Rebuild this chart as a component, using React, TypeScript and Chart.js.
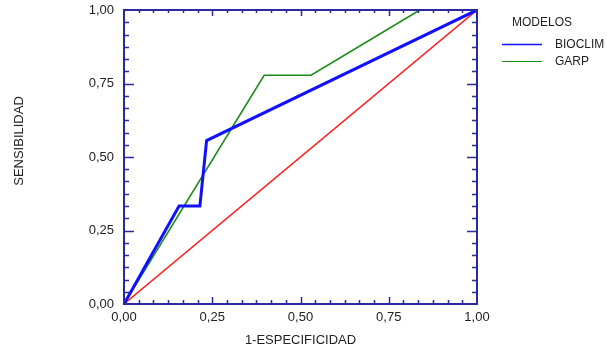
import React, { useEffect, useRef } from "react";
import { Chart, registerables } from "chart.js";

Chart.register(...registerables);

// ---- data ----
const bioclimX = [0, 0.156, 0.215, 0.234, 1];
const bioclimY = [0, 0.333, 0.333, 0.556, 1];
const garpX = [0, 0.397, 0.53, 0.838, 1];
const garpY = [0, 0.778, 0.778, 1, 1];
const refX = [0, 1];
const refY = [0, 1];
const majorTicks = [0, 0.25, 0.5, 0.75, 1];
const minorPerMajor = 6;
const seriesNames = ["BIOCLIM", "GARP"];
const legendTitle = "MODELOS";
const xTitle = "1-ESPECIFICIDAD";
const yTitle = "SENSIBILIDAD";

const AXIS = "#2a2a9c";
const TEXT = "#222222";
const FONT_FAMILY = "'Liberation Sans', Arial, sans-serif";

const fmt = (v: number) => v.toFixed(2).replace(".", ",");
const zip = (xs: number[], ys: number[]) => xs.map((x, i) => ({ x, y: ys[i] }));

const framePlugin = {
  id: "frame",
  afterDatasetsDraw(chart: any) {
    const { ctx, chartArea: a, scales } = chart;
    const xs = scales.x;
    const ys = scales.y;
    ctx.save();
    ctx.strokeStyle = AXIS;
    ctx.lineWidth = 2;
    ctx.strokeRect(Math.round(a.left), Math.round(a.top), Math.round(a.right) - Math.round(a.left), Math.round(a.bottom) - Math.round(a.top));
    ctx.lineWidth = 1.5;
    const n = (majorTicks.length - 1) * minorPerMajor;
    const lo = majorTicks[0];
    const hi = majorTicks[majorTicks.length - 1];
    ctx.beginPath();
    for (let i = 1; i < n; i++) {
      const v = lo + ((hi - lo) * i) / n;
      const major = i % minorPerMajor === 0;
      const px = Math.round(xs.getPixelForValue(v)) + 0.5;
      const py = Math.round(ys.getPixelForValue(v)) + 0.5;
      const lv = major ? 7 : 4;
      const lh = major ? 10 : 5;
      ctx.moveTo(px, a.bottom);
      ctx.lineTo(px, a.bottom - lv);
      ctx.moveTo(px, a.top);
      ctx.lineTo(px, a.top + (major ? 6 : 3));
      ctx.moveTo(a.left, py);
      ctx.lineTo(a.left + lh, py);
      ctx.moveTo(a.right, py);
      ctx.lineTo(a.right - lh, py);
    }
    ctx.stroke();

    // axis titles
    ctx.fillStyle = TEXT;
    ctx.font = `13px ${FONT_FAMILY}`;
    ctx.textAlign = "center";
    ctx.textBaseline = "middle";
    ctx.fillText(xTitle, (a.left + a.right) / 2, 340);
    ctx.save();
    ctx.translate(19, 141);
    ctx.rotate(-Math.PI / 2);
    ctx.fillText(yTitle, 0, 0);
    ctx.restore();

    // legend
    ctx.font = `12px ${FONT_FAMILY}`;
    ctx.textAlign = "left";
    ctx.fillText(legendTitle, 512, 23);
    const ds = chart.data.datasets.filter((d: any) => seriesNames.includes(d.label));
    ds.forEach((d: any, i: number) => {
      const y = 44.5 + i * 17;
      ctx.strokeStyle = d.borderColor;
      ctx.lineWidth = i === 0 ? 1.5 : 1.2;
      ctx.beginPath();
      ctx.moveTo(502, y);
      ctx.lineTo(542, y);
      ctx.stroke();
      ctx.fillStyle = TEXT;
      ctx.fillText(d.label, 555, y);
    });
    ctx.restore();
  },
};

export default function App() {
  const ref = useRef<HTMLCanvasElement | null>(null);
  useEffect(() => {
    if (!ref.current) return;
    const tickFont = { family: FONT_FAMILY, size: 13 };
    const chart = new Chart(ref.current, {
      type: "scatter",
      data: {
        datasets: [
          {
            label: seriesNames[0],
            data: zip(bioclimX, bioclimY),
            showLine: true,
            borderColor: "#1010ff",
            borderWidth: 3,
            pointRadius: 0,
            tension: 0,
          },
          {
            label: seriesNames[1],
            data: zip(garpX, garpY),
            showLine: true,
            borderColor: "#1a8c1a",
            borderWidth: 1.6,
            pointRadius: 0,
            tension: 0,
          },
          {
            label: "ref",
            data: zip(refX, refY),
            showLine: true,
            borderColor: "#ff1a1a",
            borderWidth: 1.4,
            pointRadius: 0,
            tension: 0,
          },
        ],
      },
      options: {
        responsive: false,
        maintainAspectRatio: false,
        animation: false,
        layout: { padding: { top: 10, right: 130, left: 0, bottom: 0 } },
        plugins: { legend: { display: false }, tooltip: { enabled: false } },
        scales: {
          x: {
            type: "linear",
            min: majorTicks[0],
            max: majorTicks[majorTicks.length - 1],
            afterBuildTicks: (s: any) => {
              s.ticks = majorTicks.map((v) => ({ value: v }));
            },
            afterFit: (s: any) => {
              s.height = 49;
              s.paddingLeft = 0;
              s.paddingRight = 0;
            },
            ticks: {
              callback: (v: any) => fmt(Number(v)),
              padding: 6,
              font: tickFont,
              color: TEXT,
              maxRotation: 0,
              autoSkip: false,
            },
            grid: { display: false, drawTicks: false },
            border: { display: false },
          },
          y: {
            type: "linear",
            min: majorTicks[0],
            max: majorTicks[majorTicks.length - 1],
            afterBuildTicks: (s: any) => {
              s.ticks = majorTicks.map((v) => ({ value: v }));
            },
            afterFit: (s: any) => {
              s.width = 124;
              s.paddingTop = 0;
              s.paddingBottom = 0;
            },
            ticks: {
              callback: (v: any) => fmt(Number(v)),
              padding: 10,
              font: tickFont,
              color: TEXT,
              autoSkip: false,
            },
            grid: { display: false, drawTicks: false },
            border: { display: false },
          },
        },
      },
      plugins: [framePlugin],
    } as any);
    return () => chart.destroy();
  }, []);
  return (
    <div style={{ position: "absolute", left: 0, top: 0, width: 607, height: 353, background: "#fff" }}>
      <canvas ref={ref} width={607} height={353} style={{ display: "block", width: 607, height: 353 }} />
    </div>
  );
}
